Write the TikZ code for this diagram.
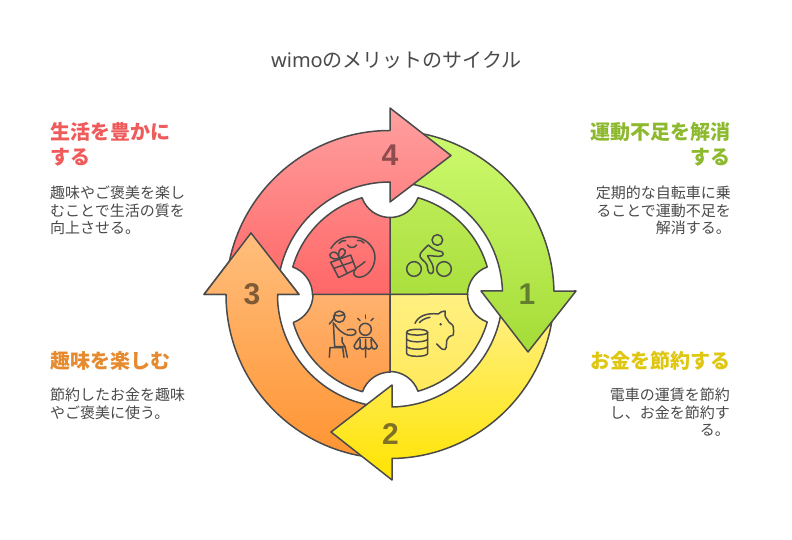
\documentclass[tikz,border=0pt]{standalone}
\usepackage{fontspec}
\setmainfont{Noto Sans CJK JP}
\newfontfamily\titlefont{Noto Sans}
\newfontfamily\numfont{Liberation Sans}
\definecolor{ink}{HTML}{4A4A4A}
\definecolor{hred}{HTML}{EF5B5B}
\definecolor{hgreen}{HTML}{8DB92E}
\definecolor{hyellow}{HTML}{E0C70F}
\definecolor{horange}{HTML}{E58A2E}
\definecolor{numa}{HTML}{627F2F}
\definecolor{numb}{HTML}{7F7226}
\definecolor{numc}{HTML}{7E5B36}
\definecolor{numd}{HTML}{8F4C4C}
\tikzset{
  part/.style={draw=ink,line width=1.5pt,line join=round},
  iconline/.style={draw=ink,line width=1.5pt,line cap=round,line join=round},
  numlabel/.style={font=\fontsize{30}{32}\selectfont\bfseries\numfont,inner sep=0pt},
  headl/.style={font=\fontsize{20}{25}\selectfont\bfseries,align=left,anchor=north west,inner sep=0pt},
  headr/.style={font=\fontsize{20}{25}\selectfont\bfseries,align=right,anchor=north east,inner sep=0pt},
  bodyl/.style={font=\fontsize{15}{17.5}\selectfont,text=ink,align=left,anchor=north west,inner sep=0pt},
  bodyr/.style={font=\fontsize{15}{17.5}\selectfont,text=ink,align=right,anchor=north east,inner sep=0pt},
  greenarrow/.style={part,top color={rgb,255:red,205;green,250;blue,110},bottom color={rgb,255:red,165;green,220;blue,55}},
  yellowarrow/.style={part,top color={rgb,255:red,255;green,240;blue,135},bottom color={rgb,255:red,255;green,228;blue,0}},
  orangearrow/.style={part,top color={rgb,255:red,255;green,190;blue,125},bottom color={rgb,255:red,255;green,148;blue,50}},
  redarrow/.style={part,top color={rgb,255:red,255;green,160;blue,160},bottom color={rgb,255:red,255;green,105;blue,105}},
  greenq/.style={part,top color={rgb,255:red,188;green,235;blue,85},bottom color={rgb,255:red,170;green,224;blue,62}},
  yellowq/.style={part,top color={rgb,255:red,255;green,240;blue,130},bottom color={rgb,255:red,255;green,233;blue,90}},
  orangeq/.style={part,top color={rgb,255:red,255;green,178;blue,110},bottom color={rgb,255:red,255;green,156;blue,72}},
  redq/.style={part,top color={rgb,255:red,255;green,132;blue,132},bottom color={rgb,255:red,255;green,103;blue,103}},
}
\newcommand{\arrowthree}{%
  \path[orangearrow] (265:164) arc[start angle=265,end angle=180,radius=164]
    -- (-186,0) -- (-139,61.5) -- (-91,0) -- (-112.5,0)
    arc[start angle=180,end angle=265,radius=112.5] -- cycle;}
\begin{document}
\begin{tikzpicture}[x=1pt,y=1pt]
\useasboundingbox (0,0) rectangle (792,540);
\fill[white] (0,0) rectangle (792,540);
\node[font=\fontsize{20}{24}\selectfont,text=ink,inner sep=0pt] (title) at (396.5,480) {{\titlefont wimo}のメリットのサイクル};

\begin{scope}[shift={(390,245.5)}]
  \arrowthree
  % arrow 2
  \path[yellowarrow] (-5:164) arc[start angle=-5,end angle=-89.3,radius=164]
    -- (2,-185.5) -- (-59,-137.5) -- (2,-90.5) -- (2,-112.5)
    arc[start angle=-89,end angle=-5,radius=112.5] -- cycle;
  % arrow 1
  \path[greenarrow] (85:164) arc[start angle=85,end angle=1.2,radius=164]
    -- (186,3.5) -- (138,-57.5) -- (91,3.5) -- (112.45,3.5)
    arc[start angle=1.8,end angle=85,radius=112.5] -- cycle;
  % arrow 4
  \path[redarrow] (175:164) arc[start angle=175,end angle=90,radius=164]
    -- (0,186.5) -- (61,139) -- (0,92.5) -- (0,112.5)
    arc[start angle=90,end angle=175,radius=112.5] -- cycle;
  % head of arrow 3 again, over the tail of arrow 4
  \begin{scope}
    \clip (-200,-0.9) rectangle (-80,70);
    \arrowthree
  \end{scope}
  % quadrants
  \path[greenq] (0,77) arc[start angle=-90,end angle=-19.6,radius=29.7]
    arc[start angle=74,end angle=16,radius=101]
    arc[start angle=109.6,end angle=180,radius=29.7] -- (0,0) -- cycle;
  \path[redq] (0,77) arc[start angle=-90,end angle=-160.4,radius=29.7]
    arc[start angle=106,end angle=164,radius=101]
    arc[start angle=70.4,end angle=0,radius=29.7] -- (0,0) -- cycle;
  \path[orangeq] (-77,0) arc[start angle=0,end angle=-70.4,radius=29.7]
    arc[start angle=196,end angle=254,radius=101]
    arc[start angle=160.4,end angle=90,radius=29.7] -- (0,0) -- cycle;
  \path[yellowq] (0,-77) arc[start angle=90,end angle=19.6,radius=29.7]
    arc[start angle=-74,end angle=-16,radius=101]
    arc[start angle=-109.6,end angle=-180,radius=29.7] -- (0,0) -- cycle;
\end{scope}

\node[numlabel,text=numa] (n1) at (527,245.5) {1};
\node[numlabel,text=numb] (n2) at (390.5,105.5) {2};
\node[numlabel,text=numc] (n3) at (252,245.5) {3};
\node[numlabel,text=numd] (n4) at (390,385) {4};

% gift icon
\begin{scope}[shift={(320,315)},x=0.3333pt,y=-0.3333pt]
  \path[iconline] (33,70) .. controls (50,42) and (75,35) .. (95,35) .. controls (135,35) and (165,65) .. (165,97) .. controls (165,125) and (145,155) .. (118,157) .. controls (100,158) and (95,140) .. (110,128) .. controls (118,122) and (128,118) .. (135,110);
  \path[iconline] (82,60) .. controls (90,70) and (102,70) .. (110,60);
  \path[iconline] (57,55) .. controls (62,48) and (70,46) .. (77,47);
  \path[iconline] (112,46) .. controls (120,45) and (127,48) .. (132,54);
  \path[iconline] (32,112) -- (92,90) -- (108,132) -- (56,158) -- cycle;
  \path[iconline] (58,100) -- (82,146);
  \path[iconline] (42,130) -- (100,110);
  \path[iconline] (58,100) .. controls (30,108) and (22,88) .. (36,82) .. controls (50,78) and (55,90) .. (58,100) .. controls (52,80) and (60,68) .. (70,72) .. controls (82,78) and (75,92) .. (58,100);
\end{scope}
% bicycle icon
\begin{scope}[shift={(395,315)},x=0.3333pt,y=-0.3333pt]
  \path[iconline] (57,132) circle[radius=22];
  \path[iconline] (147,132) circle[radius=22];
  \path[iconline] (127,45) circle[radius=16];
  \path[iconline] (100,60) .. controls (85,75) and (72,85) .. (75,95) .. controls (80,105) and (92,110) .. (96,120) .. controls (98,130) and (98,145) .. (108,146) .. controls (118,145) and (116,130) .. (112,118) .. controls (108,108) and (100,100) .. (98,92) .. controls (108,90) and (130,98) .. (142,92) .. controls (148,85) and (142,78) .. (130,78) .. controls (118,76) and (110,68) .. (100,60);
\end{scope}
% person icon
\begin{scope}[shift={(320,240)},x=0.3333pt,y=-0.3333pt]
  \path[iconline] (58,50) circle[radius=17];
  \path[iconline] (44,44) .. controls (52,50) and (65,48) .. (74,42);
  \path[iconline] (44,48) .. controls (42,58) and (35,65) .. (28,72);
  \path[iconline] (40,68) -- (44,140) -- (75,140) -- (82,172);
  \path[iconline] (44,72) .. controls (50,85) and (62,95) .. (75,102) .. controls (85,108) and (105,108) .. (108,98) .. controls (108,88) and (95,85) .. (82,90);
  \path[iconline] (66,112) -- (66,125) -- (75,140);
  \path[iconline] (28,172) -- (30,143) -- (68,143) -- (72,172);
  \path[iconline] (136,88) circle[radius=18];
  \path[iconline] (113,55) -- (120,62);
  \path[iconline] (137,45) -- (137,55);
  \path[iconline] (160,55) -- (153,62);
  \path[iconline] (120,112) -- (153,112);
  \path[iconline] (120,112) .. controls (112,122) and (105,130) .. (102,138) .. controls (104,150) and (116,150) .. (120,140) .. controls (122,150) and (134,150) .. (137,140) .. controls (140,150) and (152,150) .. (155,140) .. controls (158,150) and (170,150) .. (172,138) .. controls (168,130) and (160,122) .. (153,112);
  \path[iconline] (120,118) -- (120,140) (137,118) -- (137,172) (153,118) -- (155,140);
\end{scope}
% pig icon
\begin{scope}[shift={(395,240)},x=0.3333pt,y=-0.3333pt]
  \path[iconline] (60,70) .. controls (70,48) and (95,38) .. (130,42) .. controls (135,38) and (142,32) .. (150,33) .. controls (148,42) and (150,52) .. (158,60) .. controls (160,70) and (176,72) .. (175,82) .. controls (176,90) and (176,98) .. (175,105) .. controls (165,105) and (160,112) .. (155,122) .. controls (152,130) and (158,140) .. (150,148) .. controls (140,152) and (135,140) .. (125,132);
  \path[iconline] (73,68) .. controls (80,60) and (92,54) .. (105,52);
  \path[draw=ink,fill=ink] (137,73) circle[radius=3];
  % coins
  \path[iconline] (35,97) .. controls (35,85) and (98,85) .. (98,97) .. controls (98,108) and (35,108) .. (35,97);
  \path[iconline] (35,97) -- (35,160) .. controls (35,172) and (98,172) .. (98,160) -- (98,97);
  \path[iconline] (35,118) .. controls (45,128) and (88,128) .. (98,118);
  \path[iconline] (35,140) .. controls (45,150) and (88,150) .. (98,140);
\end{scope}

\node[headl,text=hred] (h4) at (50,417.5) {生活を豊かに\\する};
\node[bodyl] (b4) at (50,354) {趣味やご褒美を楽し\\むことで生活の質を\\向上させる。};
\node[headr,text=hgreen] (h1) at (731,417.5) {運動不足を解消\\する};
\node[bodyr] (b1) at (731,354) {定期的な自転車に乗\\ることで運動不足を\\解消する。};
\node[headl,text=horange] (h3) at (50,189) {趣味を楽しむ};
\node[bodyl] (b3) at (50,152) {節約したお金を趣味\\やご褒美に使う。};
\node[headr,text=hyellow] (h2) at (731,189) {お金を節約する};
\node[bodyr] (b2) at (730,152) {電車の運賃を節約\\し、お金を節約す\\る。};
\end{tikzpicture}
\end{document}
